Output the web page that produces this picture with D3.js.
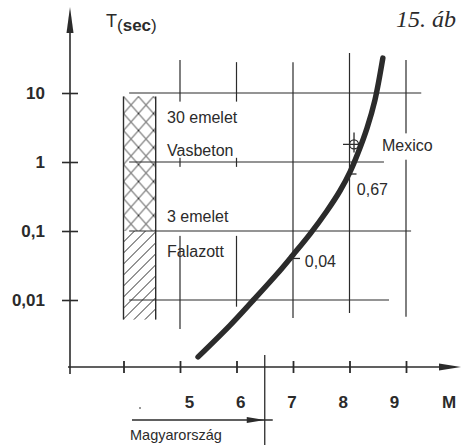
<!DOCTYPE html>
<html>
<head>
<meta charset="utf-8">
<style>
  body { margin: 0; background: #fff; }
  svg { display: block; font-family: "Liberation Sans", Arial, sans-serif; }
</style>
<script src="https://cdn.jsdelivr.net/npm/d3@7"></script>
</head>
<body>
<svg width="462" height="445"></svg>
<script>
// values (M = magnitude, T = period in sec)
var magTicks = [4, 5, 6, 7, 8, 9];
var magLabels = [5, 6, 7, 8, 9];
var periodTicks = [0.01, 0.1, 1, 10];
var periodLabels = ["0,01", "0,1", "1", "10"];
var curveM = [5.32, 5.885, 6.27, 6.72, 7.0, 7.3, 7.6, 7.83, 8.01, 8.15, 8.31, 8.45, 8.59];
var curveT = [0.0015, 0.0043, 0.0094, 0.024, 0.045, 0.09, 0.195, 0.38, 0.72, 1.35, 3.1, 7.9, 32];
var mexicoM = 8.08, mexicoT = 1.8;
var markM = [8, 7];
var markT = [0.67, 0.04];
var markText = ["0,67", "0,04"];
var zoneText = ["30 emelet", "Vasbeton", "3 emelet", "Falazott"];
var boxM = [4.0, 4.57];
var crossT = [0.1, 8.9];
var hatchT = [0.0052, 0.1];
var hungaryM = 6.5;

function draw() {
  var svg = d3.select("svg");
  var ink = "#2b2b2b";

  var x = d3.scaleLinear().domain([5, 9]).range([180, 406]);
  var xl = d3.scaleLinear().domain([5, 9]).range([189, 394]);   // labels are set a bit tighter than the ticks
  var y = d3.scaleLog().domain([0.01, 10]).range([300, 93]);
  var axisY = 367, axisX = 70;

  var defs = svg.append("defs");
  defs.append("pattern").attr("id", "cross")
      .attr("patternUnits", "userSpaceOnUse").attr("width", 15).attr("height", 17)
      .attr("x", x(boxM[0])).attr("y", y(crossT[1]))
    .append("path").attr("d", "M0,0L15,17M15,0L0,17")
      .attr("stroke", ink).attr("stroke-width", 1);
  defs.append("pattern").attr("id", "hatch")
      .attr("patternUnits", "userSpaceOnUse").attr("width", 11).attr("height", 11)
      .attr("x", x(boxM[0])).attr("y", y(hatchT[1]))
    .append("path").attr("d", "M-1,1L1,-1M0,11L11,0M10,12L12,10")
      .attr("stroke", ink).attr("stroke-width", 1);

  // vertical grid lines
  var vBottom = {5: 0.0038, 6: 0.008, 7: 0.0055, 8: 0.0065, 9: 0.0057};
  var vTop = {5: 30, 6: 28, 7: 28, 8: 38, 9: 30};
  svg.append("g").selectAll("line").data(magLabels).join("line")
      .attr("x1", d => x(d)).attr("x2", d => x(d))
      .attr("y1", d => y(vTop[d])).attr("y2", d => y(vBottom[d]))
      .attr("stroke", ink).attr("stroke-width", 1.2);

  // white space behind the text blocks
  var blanks = [[4.7, 6.1, 7.5, 1.15], [4.7, 6.1, 0.85, 0.085], [8.5, 9.5, 2.6, 1.08]];
  svg.append("g").selectAll("rect").data(blanks).join("rect")
      .attr("x", d => x(d[0])).attr("width", d => x(d[1]) - x(d[0]))
      .attr("y", d => y(d[2])).attr("height", d => y(d[3]) - y(d[2]))
      .attr("fill", "#fff");

  // horizontal grid lines
  var hEnd = {10: 9.27, 1: 8.61, 0.1: 9.09, 0.01: 8.7};
  svg.append("g").selectAll("line").data(periodTicks).join("line")
      .attr("x1", x(4.1)).attr("x2", d => x(hEnd[d]))
      .attr("y1", d => y(d)).attr("y2", d => y(d))
      .attr("stroke", ink).attr("stroke-width", 1.2);

  // hatched column
  svg.append("rect")
      .attr("x", x(boxM[0])).attr("width", x(boxM[1]) - x(boxM[0]))
      .attr("y", y(crossT[1])).attr("height", y(crossT[0]) - y(crossT[1]))
      .attr("fill", "url(#cross)");
  svg.append("rect")
      .attr("x", x(boxM[0])).attr("width", x(boxM[1]) - x(boxM[0]))
      .attr("y", y(hatchT[1])).attr("height", y(hatchT[0]) - y(hatchT[1]))
      .attr("fill", "url(#hatch)");
  svg.append("g").selectAll("line").data(boxM).join("line")
      .attr("x1", d => x(d)).attr("x2", d => x(d))
      .attr("y1", y(crossT[1])).attr("y2", y(hatchT[0]))
      .attr("stroke", ink).attr("stroke-width", 1.4);

  // axes
  var gy = svg.append("g").attr("transform", "translate(" + axisX + ",0)")
      .call(d3.axisLeft(y).tickValues(periodTicks)
        .tickFormat((d, i) => periodLabels[i]).tickSize(8).tickPadding(17));
  gy.select(".domain").remove();
  gy.selectAll(".tick line").attr("x1", 8).attr("stroke", ink).attr("stroke-width", 1.6);
  gy.selectAll(".tick text").attr("font-size", 17).attr("font-weight", "bold")
      .attr("fill", ink).attr("font-family", "Liberation Sans, Arial, sans-serif");

  var gx = svg.append("g").attr("transform", "translate(0," + axisY + ")")
      .call(d3.axisBottom(x).tickValues(magTicks).tickFormat("").tickSize(6));
  gx.select(".domain").remove();
  gx.selectAll(".tick line").attr("y1", -6).attr("stroke", ink).attr("stroke-width", 1.8);

  var gxl = svg.append("g").attr("transform", "translate(0," + axisY + ")")
      .call(d3.axisBottom(xl).tickValues(magLabels).tickFormat(d3.format("d"))
        .tickSize(0).tickPadding(29));
  gxl.select(".domain").remove();
  gxl.selectAll(".tick text").attr("font-size", 17).attr("font-weight", "bold")
      .attr("fill", ink).attr("font-family", "Liberation Sans, Arial, sans-serif");

  svg.append("line").attr("x1", axisX).attr("x2", axisX).attr("y1", 28).attr("y2", 374)
      .attr("stroke", ink).attr("stroke-width", 1.6);
  svg.append("path").attr("d", "M" + axisX + ",7L" + (axisX + 3.5) + ",33L" + (axisX - 3.5) + ",33Z")
      .attr("fill", ink);
  svg.append("line").attr("x1", 68).attr("x2", 442).attr("y1", axisY).attr("y2", axisY)
      .attr("stroke", ink).attr("stroke-width", 1.4);
  svg.append("path").attr("d", "M461," + axisY + "L439," + (axisY - 3.5) + "L439," + (axisY + 3.5) + "Z")
      .attr("fill", ink);

  svg.append("text").attr("x", 449).attr("y", 402).attr("dy", "0.35em")
      .attr("text-anchor", "middle").attr("font-size", 17).attr("font-weight", "bold")
      .attr("fill", ink).text("M");

  var tl = svg.append("text").attr("x", 106).attr("y", 27).attr("font-size", 18).attr("fill", ink);
  tl.append("tspan").text("T");
  tl.append("tspan").attr("dy", 4).attr("font-size", 17).text("(");
  tl.append("tspan").attr("font-size", 17).attr("font-weight", "bold").text("sec");
  tl.append("tspan").attr("font-size", 17).text(")");

  svg.append("text").attr("x", 396).attr("y", 27)
      .attr("font-family", "Liberation Serif, Times New Roman, serif")
      .attr("font-style", "italic").attr("font-size", 24).attr("fill", ink)
      .text("15. áb");

  // curve
  var pts = curveM.map((m, i) => ({m: m, t: curveT[i]}));
  var line = d3.line().x(d => x(d.m)).y(d => y(d.t)).curve(d3.curveCatmullRom);
  svg.append("path").datum(pts)
      .attr("fill", "none").attr("stroke", ink).attr("stroke-width", 5.5)
      .attr("stroke-linecap", "round").attr("stroke-linejoin", "round")
      .attr("d", line);

  // Mexico marker
  var mx = x(mexicoM), my = y(mexicoT);
  svg.append("circle").attr("cx", mx).attr("cy", my).attr("r", 4.5)
      .attr("fill", "none").attr("stroke", ink).attr("stroke-width", 1.3);
  svg.append("path").attr("d", "M" + (mx - 11) + "," + my + "H" + (mx + 8) + "M" + mx + "," + (my - 12) + "V" + (my + 8))
      .attr("stroke", ink).attr("stroke-width", 1.3);

  // value marks on the curve
  svg.append("g").selectAll("line").data(markM).join("line")
      .attr("x1", d => x(d)).attr("x2", d => x(d) + 7)
      .attr("y1", (d, i) => y(markT[i])).attr("y2", (d, i) => y(markT[i]))
      .attr("stroke", ink).attr("stroke-width", 1.3);

  // text annotations
  var annot = [
    [zoneText[0], 4.77, 4.5], [zoneText[1], 4.77, 1.46],
    [zoneText[2], 4.77, 0.162], [zoneText[3], 4.77, 0.05],
    ["Mexico", 8.575, 1.73], [markText[0], 8.13, 0.4], [markText[1], 7.21, 0.036]
  ];
  svg.append("g").selectAll("text").data(annot).join("text")
      .attr("x", d => x(d[1])).attr("y", d => y(d[2])).attr("dy", "0.35em")
      .attr("font-size", 16).attr("fill", ink).text(d => d[0]);

  // Hungary limit
  var hx = x(hungaryM);
  svg.append("line").attr("x1", hx).attr("x2", hx).attr("y1", 355).attr("y2", 445)
      .attr("stroke", ink).attr("stroke-width", 1.3);
  svg.append("line").attr("x1", x(4.15)).attr("x2", hx + 8).attr("y1", 420).attr("y2", 420)
      .attr("stroke", ink).attr("stroke-width", 1.3);
  svg.append("path").attr("d", "M" + hx + ",420L" + (hx - 18) + ",417L" + (hx - 18) + ",423Z")
      .attr("fill", ink);
  svg.append("text").attr("x", 130).attr("y", 435).attr("dy", "0.35em")
      .attr("font-size", 14.5).attr("fill", ink).text("Magyarország");
  svg.append("circle").attr("cx", 140).attr("cy", 408).attr("r", 1).attr("fill", "#777");
}

draw();
</script>
</body>
</html>
